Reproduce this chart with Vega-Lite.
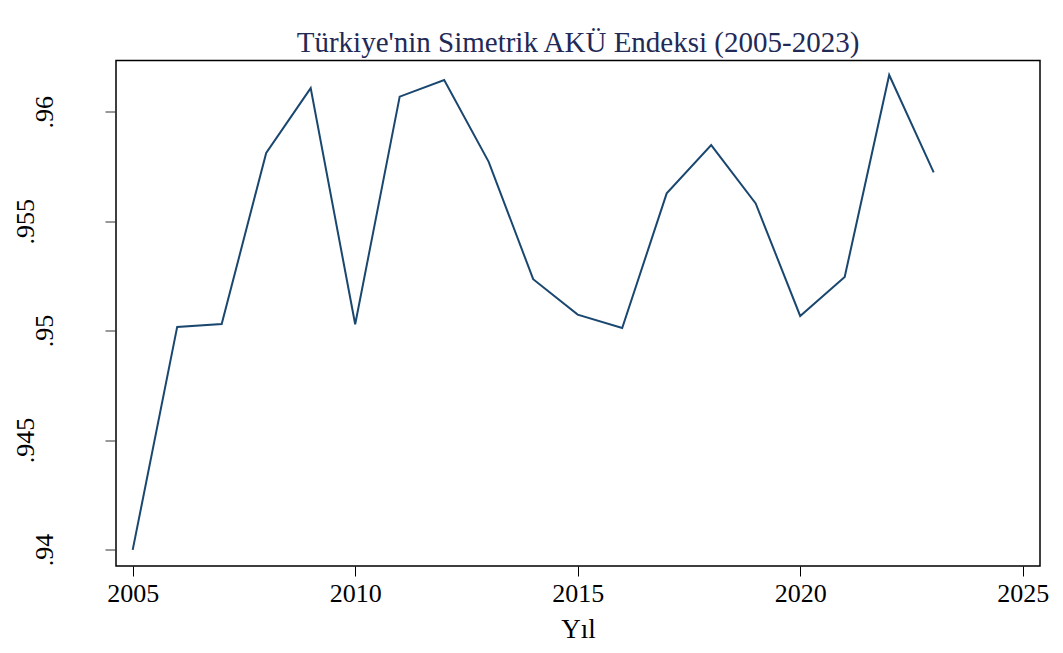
{
  "$schema": "https://vega.github.io/schema/vega-lite/v6.json",
  "autosize": "none",
  "width": 924,
  "height": 505.5,
  "padding": {"left": 116, "top": 60.5, "right": 23, "bottom": 87},
  "background": "#ffffff",
  "title": {
    "text": "Türkiye'nin Simetrik AKÜ Endeksi (2005-2023)",
    "font": "Liberation Serif",
    "fontSize": 29,
    "fontWeight": "normal",
    "color": "#1f2a57",
    "anchor": "middle",
    "baseline": "alphabetic",
    "offset": 7.5,
    "dy": 28
  },
  "data": {
    "values": [
      {"Yil": 2005, "AKU": 0.93998},
      {"Yil": 2006, "AKU": 0.95017},
      {"Yil": 2007, "AKU": 0.95030},
      {"Yil": 2008, "AKU": 0.95812},
      {"Yil": 2009, "AKU": 0.96108},
      {"Yil": 2010, "AKU": 0.95029},
      {"Yil": 2011, "AKU": 0.96069},
      {"Yil": 2012, "AKU": 0.96145},
      {"Yil": 2013, "AKU": 0.95771},
      {"Yil": 2014, "AKU": 0.95235},
      {"Yil": 2015, "AKU": 0.95073},
      {"Yil": 2016, "AKU": 0.95012},
      {"Yil": 2017, "AKU": 0.95627},
      {"Yil": 2018, "AKU": 0.95848},
      {"Yil": 2019, "AKU": 0.95581},
      {"Yil": 2020, "AKU": 0.95067},
      {"Yil": 2021, "AKU": 0.95245},
      {"Yil": 2022, "AKU": 0.96168},
      {"Yil": 2023, "AKU": 0.95723}
    ]
  },
  "mark": {"type": "line", "color": "#1a476f", "strokeWidth": 2},
  "encoding": {
    "x": {
      "field": "Yil",
      "type": "quantitative",
      "scale": {"domain": [2004.625, 2025.389], "nice": false, "zero": false},
      "axis": {
        "title": "Yıl",
        "values": [2005, 2010, 2015, 2020, 2025],
        "format": "d",
        "grid": false,
        "domain": false,
        "tickSize": 10,
        "tickColor": "#000000",
        "tickWidth": 1,
        "labelFont": "Liberation Serif",
        "labelFontSize": 26,
        "labelColor": "#000000",
        "labelPadding": 4,
        "titleFont": "Liberation Serif",
        "titleFontSize": 27,
        "titleFontWeight": "normal",
        "titleColor": "#000000",
        "titlePadding": 10
      }
    },
    "y": {
      "field": "AKU",
      "type": "quantitative",
      "scale": {"domain": [0.939245, 0.962342], "nice": false, "zero": false},
      "axis": {
        "title": null,
        "values": [0.94, 0.945, 0.95, 0.955, 0.96],
        "labelExpr": "substring(format(datum.value, '.3~f'), 1)",
        "grid": false,
        "domain": false,
        "tickSize": 11,
        "tickColor": "#333333",
        "tickWidth": 1,
        "labelFont": "Liberation Serif",
        "labelFontSize": 26,
        "labelColor": "#000000",
        "labelAngle": -90,
        "labelAlign": "center",
        "labelBaseline": "alphabetic",
        "labelPadding": {
          "condition": {"test": "abs(datum.value - 0.955) < 0.000001 || abs(datum.value - 0.945) < 0.000001", "value": 72},
          "value": 53
        }
      }
    }
  },
  "config": {
    "view": {"stroke": "#000000", "strokeWidth": 1.5}
  }
}
